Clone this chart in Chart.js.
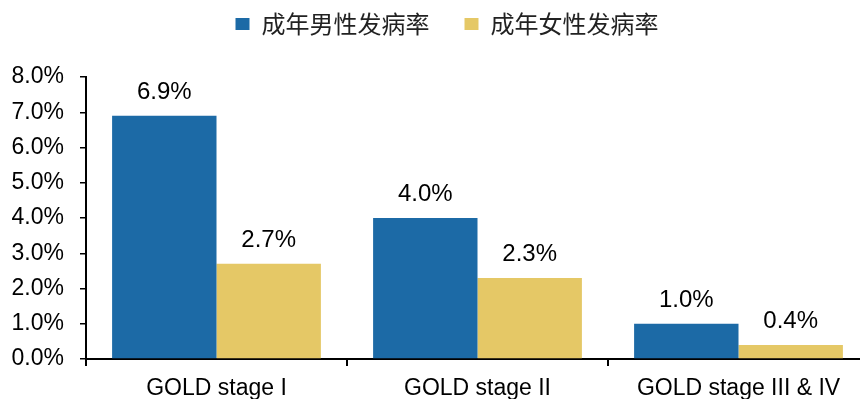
<!DOCTYPE html>
<html>
<head>
<meta charset="utf-8">
<script src="https://cdn.jsdelivr.net/npm/chart.js@4"></script>
<style>
  html, body { margin: 0; padding: 0; background: #fff; overflow: hidden; }
  #wrap { width: 860px; height: 399px; overflow: hidden; }
  #box { width: 880px; height: 399px; }
</style>
</head>
<body>
<div id="wrap"><div id="box"><canvas id="chart"></canvas></div></div>
<script>
var categories = ["GOLD stage I", "GOLD stage II", "GOLD stage III & IV"];
var maleRate = [6.9, 4.0, 1.0];
var femaleRate = [2.7, 2.3, 0.4];
var seriesNames = ["成年男性发病率", "成年女性发病率"];
var yTicks = [0, 1, 2, 3, 4, 5, 6, 7, 8];

var latin = "'Liberation Sans', Arial, sans-serif";

// legend takes the band above the plot; its items are centred a bit left of the plot
var legendPlace = {
    id: "legendPlace",
    beforeInit: function (chart) {
        var fit = chart.legend.fit;
        chart.legend.fit = function () {
            fit.call(this);
            this.height = 77;
        };
    },
    afterLayout: function (chart) {
        var lg = chart.legend;
        lg.left = 25; lg.right = 869; lg.width = 844;
        lg.top = -23; lg.bottom = 77; lg.height = 100;
    }
};

// value labels above each bar
var barLabels = {
    id: "barLabels",
    afterDatasetsDraw: function (chart) {
        var ctx = chart.ctx;
        ctx.save();
        ctx.font = "24px " + latin;
        ctx.fillStyle = "#000";
        ctx.textAlign = "center";
        ctx.textBaseline = "alphabetic";
        chart.data.datasets.forEach(function (ds, i) {
            chart.getDatasetMeta(i).data.forEach(function (bar, j) {
                ctx.fillText(ds.data[j].toFixed(1) + "%", bar.x, bar.y - 17);
            });
        });
        ctx.restore();
    }
};

var canvas = document.getElementById("chart");
var config = {
    type: "bar",
    data: {
        labels: categories,
        datasets: [
            { label: seriesNames[0], data: maleRate, backgroundColor: "#1c6aa6" },
            { label: seriesNames[1], data: femaleRate, backgroundColor: "#e5c866" }
        ]
    },
    options: {
        responsive: true,
        maintainAspectRatio: false,
        animation: false,
        layout: { padding: { left: 0, right: 11, top: 0, bottom: 0 } },
        datasets: { bar: { categoryPercentage: 0.8, barPercentage: 1.0 } },
        plugins: {
            tooltip: { enabled: false },
            legend: {
                position: "top",
                labels: {
                    boxWidth: 14,
                    boxHeight: 12,
                    padding: 35,
                    color: "#222",
                    font: { family: "'Noto Sans CJK SC', sans-serif", size: 24 }
                }
            }
        },
        scales: {
            x: {
                afterFit: function (s) { s.height = 40; },
                border: { color: "#000", width: 2 },
                grid: { drawOnChartArea: false, drawTicks: true, tickLength: 7, color: "#000", lineWidth: 2, offset: true },
                ticks: { color: "#000", padding: 9, font: { family: latin, size: 23 } }
            },
            y: {
                min: 0,
                max: 8,
                afterFit: function (s) { s.width = 86; },
                afterBuildTicks: function (s) { s.ticks = yTicks.map(function (v) { return { value: v }; }); },
                border: { color: "#000", width: 2 },
                grid: { drawOnChartArea: false, drawTicks: true, tickLength: 6, color: "#000", lineWidth: 1.5 },
                ticks: {
                    color: "#000",
                    padding: 16,
                    font: { family: latin, size: 23 },
                    callback: function (v) { return v.toFixed(1) + "%"; }
                }
            }
        }
    },
    plugins: [legendPlace, barLabels]
};

var barchart = new Chart(canvas, config);
</script>
</body>
</html>
